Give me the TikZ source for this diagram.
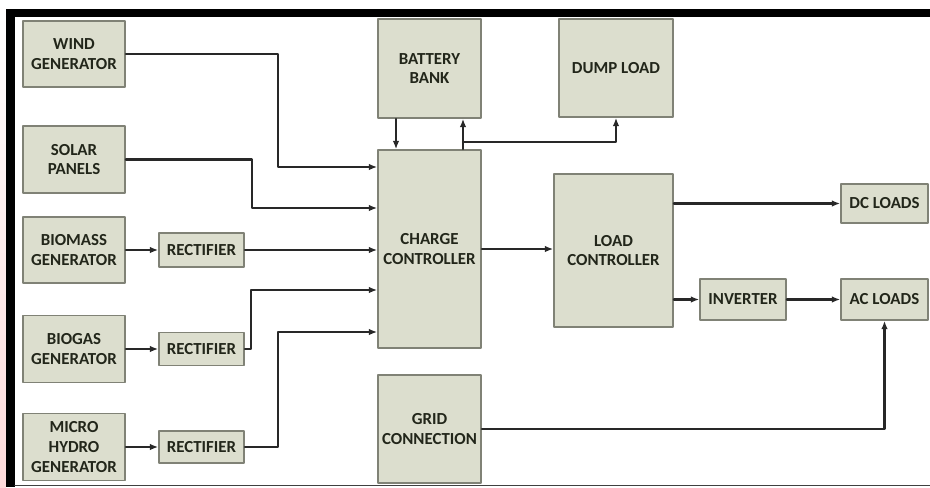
\documentclass[tikz,border=0pt]{standalone}
\usepackage{fontspec}
\setmainfont{Carlito}
\usetikzlibrary{arrows.meta}
\definecolor{boxfill}{RGB}{220,222,206}
\definecolor{boxline}{RGB}{128,130,118}
\definecolor{txt}{RGB}{34,38,26}
\definecolor{wire}{RGB}{40,40,40}
\begin{document}
\begin{tikzpicture}[x=0.02cm,y=-0.02cm,line cap=round,line join=round,
  block/.style={draw=boxline,fill=boxfill,line width=0.9pt,inner sep=0pt,align=center,
    text=txt,font=\bfseries\fontsize{9.6}{11.2}\selectfont},
  flow/.style={draw=wire,line width=1.15pt,-{Latex[length=4.8pt,width=3.8pt]}}]
  \useasboundingbox (0,0) rectangle (930,487);
  \shade[top color=white,middle color=cyan!18,bottom color=red!14] (0,0) rectangle (6,487);
  % frame
  \fill[black] (6,9) rectangle (930,17);
  \fill[black] (6,9) rectangle (15,487);
  \draw[line width=1pt,black!75] (15,485.5) -- (930,485.5);
  % sources
  \node[block,minimum width=2.04cm,minimum height=1.32cm] (wind) at (74,54) {WIND\\GENERATOR};
  \node[block,minimum width=2.04cm,minimum height=1.34cm] (solar) at (74,159.5) {SOLAR\\PANELS};
  \node[block,minimum width=2.04cm,minimum height=1.32cm] (biomass) at (74,250) {BIOMASS\\GENERATOR};
  \node[block,minimum width=2.04cm,minimum height=1.34cm] (biogas) at (74,349) {BIOGAS\\GENERATOR};
  \node[block,minimum width=2.04cm,minimum height=1.34cm] (hydro) at (74,447) {MICRO\\HYDRO\\GENERATOR};
  \node[block,minimum width=1.70cm,minimum height=0.68cm] (rect1) at (201.5,250) {RECTIFIER};
  \node[block,minimum width=1.70cm,minimum height=0.66cm] (rect2) at (201.5,349) {RECTIFIER};
  \node[block,minimum width=1.70cm,minimum height=0.64cm] (rect3) at (201.5,447) {RECTIFIER};
  % middle column
  \node[block,minimum width=2.06cm,minimum height=1.98cm] (battery) at (429.5,68.5) {BATTERY\\BANK};
  \node[block,minimum width=2.28cm,minimum height=1.96cm] (dump) at (616,68) {DUMP LOAD};
  \node[block,minimum width=2.06cm,minimum height=3.96cm] (cc) at (429.5,249) {CHARGE\\CONTROLLER};
  \node[block,minimum width=2.06cm,minimum height=2.16cm] (grid) at (429.5,429) {GRID\\CONNECTION};
  % loads
  \node[block,minimum width=2.38cm,minimum height=3.06cm] (lc) at (613.5,250.5) {LOAD\\CONTROLLER};
  \node[block,minimum width=1.74cm,minimum height=0.78cm] (dc) at (884.5,203.5) {DC LOADS};
  \node[block,minimum width=1.72cm,minimum height=0.82cm] (inv) at (743,299.5) {INVERTER};
  \node[block,minimum width=1.74cm,minimum height=0.82cm] (ac) at (884.5,299.5) {AC LOADS};
  \coordinate (tap) at (463,142);
  % inputs to charge controller
  \draw[flow] (wind.east) -| (278,167) -- (cc.west |- 0,167);
  \draw[flow] (solar.east) -| (252,208) -- (cc.west |- 0,208);
  \draw[flow] (biomass.east) -- (rect1.west);
  \draw[flow] (rect1.east) -- (cc.west |- rect1.east);
  \draw[flow] (biogas.east) -- (rect2.west);
  \draw[flow] (rect2.east) -| (251,290) -- (cc.west |- 0,290);
  \draw[flow] (hydro.east) -- (rect3.west);
  \draw[flow] (rect3.east) -| (278,332) -- (cc.west |- 0,332);
  % battery and dump load
  \draw[flow] (battery.south -| 396,0) -- (cc.north -| 396,0);
  \draw[flow] (cc.north -| 463,0) -- (battery.south -| 463,0);
  \draw[flow] (tap) -| (dump.south);
  % outputs
  \draw[flow] (cc.east) -- (lc.west |- cc.east);
  \draw[flow] (lc.east |- dc.west) -- (dc.west);
  \draw[flow] (lc.east |- inv.west) -- (inv.west);
  \draw[flow] (inv.east) -- (ac.west);
  \draw[flow] (grid.east) -| (ac.south);
\end{tikzpicture}
\end{document}
